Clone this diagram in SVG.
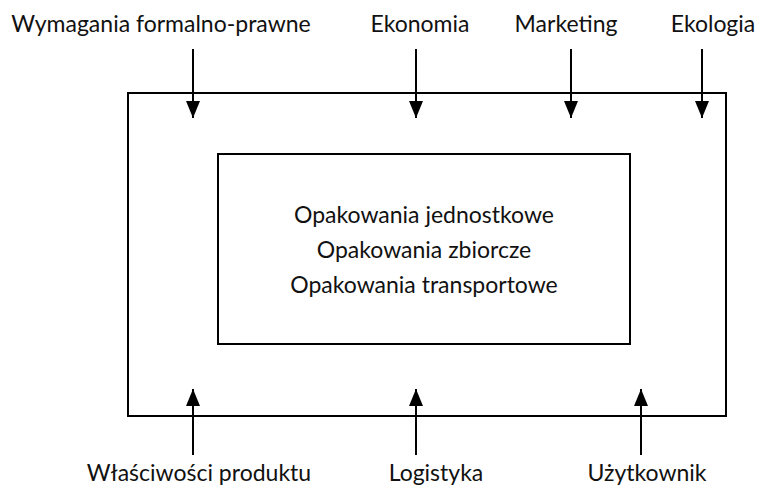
<svg xmlns="http://www.w3.org/2000/svg" width="760" height="491" viewBox="0 0 760 491">
  <style>
    .box { fill: none; stroke: #000; stroke-width: 2; }
    .arrow { stroke: #000; stroke-width: 2; fill: none; marker-end: url(#head); }
    .label { font-family: Lato, "Open Sans", "Liberation Sans", sans-serif; font-size: 23px; fill: #111; text-anchor: middle; }
  </style>
  <defs>
    <!-- filled triangular head, drawn pointing along +x, tip at the line end -->
    <marker id="head" markerUnits="userSpaceOnUse" markerWidth="17" markerHeight="16" viewBox="0 0 17 16" refX="17" refY="8" orient="auto">
      <path d="M0,1 L17,8 L0,15 Z" fill="#000"/>
    </marker>
  </defs>
  <rect width="760" height="491" fill="#fff"/>

  <g id="outer-frame">
    <rect class="box" x="128" y="93" width="598" height="323"/>
  </g>

  <g id="packaging">
    <rect class="box" x="218" y="154" width="412" height="190"/>
    <text class="label" x="424" y="223">Opakowania jednostkowe</text>
    <text class="label" x="424" y="258">Opakowania zbiorcze</text>
    <text class="label" x="424" y="293">Opakowania transportowe</text>
  </g>

  <g id="label-legal"><text class="label" x="161" y="32">Wymagania formalno-prawne</text></g>
  <g id="label-economy"><text class="label" x="420" y="32">Ekonomia</text></g>
  <g id="label-marketing"><text class="label" x="566" y="32">Marketing</text></g>
  <g id="label-ecology"><text class="label" x="713" y="32">Ekologia</text></g>
  <g id="label-product"><text class="label" x="199" y="481">Właściwości produktu</text></g>
  <g id="label-logistics"><text class="label" x="436" y="481">Logistyka</text></g>
  <g id="label-user"><text class="label" x="647" y="481">Użytkownik</text></g>

  <g id="connectors">
    <polyline class="arrow" points="193,49 193,118"/>
    <polyline class="arrow" points="416,49 416,118"/>
    <polyline class="arrow" points="571,49 571,118"/>
    <polyline class="arrow" points="702,49 702,118"/>
    <polyline class="arrow" points="193,455 193,389"/>
    <polyline class="arrow" points="416,455 416,389"/>
    <polyline class="arrow" points="641,455 641,389"/>
  </g>
</svg>
